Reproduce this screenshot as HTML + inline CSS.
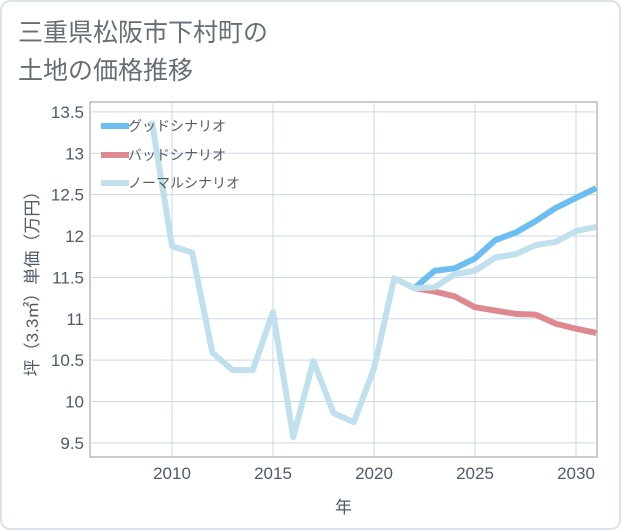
<!DOCTYPE html>
<html><head><meta charset="utf-8"><style>
body{margin:0;background:#fff;}
#wrap{position:relative;width:621px;height:530px;box-sizing:border-box;border:2px solid #dde3ea;border-radius:10px;overflow:hidden;font-family:"Liberation Sans","Noto Sans CJK JP",sans-serif;}
#title{position:absolute;left:16px;top:12px;font-size:25px;line-height:38px;color:#666e75;}
</style></head><body>
<div id="wrap">
<div id="title">三重県松阪市下村町の<br>土地の価格推移</div>
<svg id="chart" width="621" height="530" style="position:absolute;left:-2px;top:-2px"></svg>
</div>
<script>
const years=[2009,2010,2011,2012,2013,2014,2015,2016,2017,2018,2019,2020,2021,2022,2023,2024,2025,2026,2027,2028,2029,2030,2031];
const normalVals=[13.39,11.88,11.80,10.59,10.38,10.38,11.08,9.57,10.49,9.86,9.75,10.40,11.49,11.37,11.38,11.54,11.58,11.74,11.78,11.89,11.93,12.06,12.11];
const futureYears=[2022,2023,2024,2025,2026,2027,2028,2029,2030,2031];
const goodVals=[11.37,11.58,11.61,11.73,11.95,12.04,12.18,12.34,12.46,12.58];
const badVals=[11.37,11.33,11.27,11.14,11.10,11.06,11.05,10.94,10.88,10.83];
const yTicks=[9.5,10,10.5,11,11.5,12,12.5,13,13.5];
const xTicks=[2010,2015,2020,2025,2030];
const NS="http://www.w3.org/2000/svg";
const svg=document.getElementById('chart');
const L=90,R=597,T=102,B=457;
const X0=2005.94,X1=2031.04,Y0=9.33,Y1=13.62;
const xs=v=>L+(v-X0)/(X1-X0)*(R-L);
const ys=v=>B-(v-Y0)/(Y1-Y0)*(B-T);
function mk(t,a){const e=document.createElementNS(NS,t);for(const k in a)e.setAttribute(k,a[k]);svg.appendChild(e);return e;}
const bg=mk('rect',{x:L,y:T,width:R-L,height:B-T,fill:'#fff',stroke:'#999',"stroke-width":1});


yTicks.forEach(v=>{
 const g=mk('line',{x1:L,x2:R,y1:ys(v),y2:ys(v),stroke:'#ccd6e3',"stroke-width":1});
 
 
 const t=mk('text',{x:L-6,y:ys(v)+6,"text-anchor":"end","font-size":17,fill:'#4f5b6b'});
 t.textContent=String(v);
 
 
});
xTicks.forEach(v=>{
 const g=mk('line',{x1:xs(v),x2:xs(v),y1:T,y2:B,stroke:'#ccd6e3',"stroke-width":1});
 
 
 const t=mk('text',{x:xs(v),y:B+22,"text-anchor":"middle","font-size":17,fill:'#4f5b6b'});
 t.textContent=String(v);
 
 
});
const defs=mk('defs',{});
const cp=document.createElementNS(NS,'clipPath');cp.setAttribute('id','clip');
const cr=document.createElementNS(NS,'rect');cr.setAttribute('x',L);cr.setAttribute('y',T);cr.setAttribute('width',R-L);cr.setAttribute('height',B-T);
cp.appendChild(cr);defs.appendChild(cp);
function line(xa,ya,col,name){
 const p=mk('polyline',{points:xa.map((x,i)=>xs(x)+','+ys(ya[i])).join(' '),fill:'none',stroke:col,"stroke-width":6,"stroke-linejoin":"round","clip-path":"url(#clip)"});
 
 
}
line(futureYears,goodVals,'#6cbdf2','good-scenario-line');
line(futureYears,badVals,'#e08890','bad-scenario-line');
line(years,normalVals,'#bfe0ec','normal-scenario-line');
const leg=[['グッドシナリオ','#6cbdf2',126],['バッドシナリオ','#e08890',155],['ノーマルシナリオ','#bfe0ec',183]];
leg.forEach(([n,c,y])=>{
 const l=mk('line',{x1:101,x2:129,y1:y,y2:y,stroke:c,"stroke-width":6});
 
 
 const t=mk('text',{x:128,y:y+5,"font-size":14,fill:'#555c66'});
 t.textContent=n;
 
 
});
const xt=mk('text',{x:(L+R)/2,y:513,"text-anchor":"middle","font-size":17,fill:'#4f5b6b'});
xt.textContent='年';


const yt=mk('text',{x:0,y:0,"text-anchor":"middle","font-size":17,fill:'#4f5b6b',transform:'translate(38,'+((T+B)/2)+') rotate(-90)'});
yt.textContent='坪（3.3㎡）単価（万円）';


</script>
</body></html>
